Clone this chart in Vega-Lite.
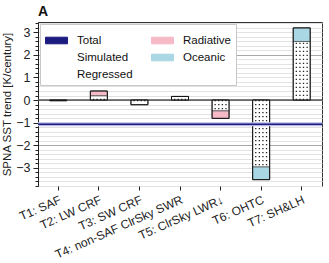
{
  "$schema": "https://vega.github.io/schema/vega-lite/v6.json",
  "width": 284,
  "height": 164,
  "autosize": {"type": "none"},
  "padding": {"left": 38, "top": 22, "right": 7, "bottom": 77},
  "background": "white",
  "title": {"text": "A", "anchor": "start", "frame": "group", "offset": 3, "dy": 5, "fontSize": 14, "font": "Liberation Sans", "fontWeight": "bold", "color": "#111"},
  "config": {
    "font": "Liberation Sans",
    "view": {"stroke": "#333", "strokeWidth": 1},
    "axis": {"labelFont": "Liberation Sans", "titleFont": "Liberation Sans", "labelColor": "#222", "titleColor": "#222", "domainColor": "#222", "tickColor": "#222"},
    "legend": {
      "labelFont": "Liberation Sans", "title": null, "orient": "top-left", "offset": 2, "columns": 2, "columnPadding": 16, "rowPadding": 0,
      "padding": 5, "fillColor": "white", "strokeColor": "#c8c8c8",
      "labelFontSize": 11.5, "labelOffset": 9, "labelColor": "#111", "labelLimit": 200,
      "symbolSize": 484, "symbolStrokeWidth": 1, "symbolType": "M-1,-0.3H1V0.3H-1Z", "symbolStrokeColor": "#222", "symbolOpacity": 1
    }
  },
  "datasets": {
    "bars": [
      {"cat": "T1: SAF", "type": "Regressed", "v0": 0, "v1": -0.03},
      {"cat": "T1: SAF", "type": "Simulated", "v0": 0, "v1": -0.03},
      {"cat": "T2: LW CRF", "type": "Regressed", "v0": 0, "v1": 0.19},
      {"cat": "T2: LW CRF", "type": "Radiative", "v0": 0.19, "v1": 0.4},
      {"cat": "T2: LW CRF", "type": "Simulated", "v0": 0, "v1": 0.4},
      {"cat": "T3: SW CRF", "type": "Regressed", "v0": 0, "v1": -0.2},
      {"cat": "T3: SW CRF", "type": "Simulated", "v0": 0, "v1": -0.21},
      {"cat": "T4: non-SAF ClrSky SWR", "type": "Regressed", "v0": 0, "v1": 0.16},
      {"cat": "T4: non-SAF ClrSky SWR", "type": "Simulated", "v0": 0, "v1": 0.16},
      {"cat": "T5: ClrSky LWR↓", "type": "Regressed", "v0": 0, "v1": -0.48},
      {"cat": "T5: ClrSky LWR↓", "type": "Radiative", "v0": -0.48, "v1": -0.81},
      {"cat": "T5: ClrSky LWR↓", "type": "Simulated", "v0": 0, "v1": -0.81},
      {"cat": "T6: OHTC", "type": "Regressed", "v0": 0, "v1": -2.96},
      {"cat": "T6: OHTC", "type": "Oceanic", "v0": -2.96, "v1": -3.52},
      {"cat": "T6: OHTC", "type": "Simulated", "v0": 0, "v1": -3.52},
      {"cat": "T7: SH&LH", "type": "Regressed", "v0": 0, "v1": 2.59},
      {"cat": "T7: SH&LH", "type": "Oceanic", "v0": 2.59, "v1": 3.19},
      {"cat": "T7: SH&LH", "type": "Simulated", "v0": 0, "v1": 3.19}
    ],
    "total": [{"type": "Total", "v0": -1.07}],
    "zero": [{"v0": 0}]
  },
  "encoding": {
    "x": {
      "field": "cat", "type": "nominal", "sort": null,
      "scale": {"paddingInner": 0, "paddingOuter": 0, "domain": ["T1: SAF", "T2: LW CRF", "T3: SW CRF", "T4: non-SAF ClrSky SWR", "T5: ClrSky LWR↓", "T6: OHTC", "T7: SH&LH"]},
      "axis": {"title": null, "labelAngle": -24, "labelAlign": "right", "labelBaseline": "top", "labelFontSize": 12, "labelPadding": 4, "tickSize": 4, "grid": false, "domain": false, "labelLimit": 200}
    },
    "y": {
      "field": "v0", "type": "quantitative",
      "scale": {"domain": [-3.8, 3.45], "nice": false, "zero": false},
      "axis": {
        "title": "SPNA SST trend [K/century]", "titleFontSize": 11.5, "titleFontWeight": "normal", "titlePadding": 3,
        "labelFontSize": 12.5, "labelPadding": 3, "labelOverlap": false,
        "values": [-3.8, -3.6, -3.4, -3.2, -3, -2.8, -2.6, -2.4, -2.2, -2, -1.8, -1.6, -1.4, -1.2, -1, -0.8, -0.6, -0.4, -0.2, 0, 0.2, 0.4, 0.6, 0.8, 1, 1.2, 1.4, 1.6, 1.8, 2, 2.2, 2.4, 2.6, 2.8, 3, 3.2, 3.4],
        "labelExpr": "abs(datum.value - round(datum.value)) < 0.001 ? format(round(datum.value), 'd') : ''",
        "tickSize": {"condition": {"test": "abs(datum.value - round(datum.value)) < 0.001", "value": 5}, "value": 3},
        "grid": true,
        "gridColor": {"condition": {"test": "abs(datum.value/2 - round(datum.value/2)) < 0.001", "value": "#a8a8a8"}, "value": "#e2e2e2"},
        "gridWidth": 1
      }
    }
  },
  "layer": [
    {
      "data": {"name": "zero"},
      "mark": {"type": "rule", "color": "#555", "strokeWidth": 1.5},
      "encoding": {"x": null}
    },
    {
      "data": {"name": "bars"},
      "transform": [{"filter": "datum.type === 'Radiative' || datum.type === 'Oceanic' || datum.type === 'Regressed'"}],
      "mark": {"type": "bar", "width": 17, "stroke": "#555", "strokeWidth": 0.8},
      "encoding": {
        "y2": {"field": "v1"},
        "color": {
          "field": "type", "type": "nominal",
          "scale": {"domain": ["Total", "Simulated", "Regressed", "Radiative", "Oceanic"], "range": ["#1c1c80", "#ffffff", "#ffffff", "#f5bac6", "#a9d7e3"]},
          "legend": {"symbolStrokeColor": "#222", "symbolStrokeWidth": 1}
        }
      }
    },
    {
      "data": {"name": "bars"},
      "transform": [{"filter": "datum.type === 'Regressed'"}],
      "layer": [
        {"mark": {"type": "rule", "xOffset": -5.4, "color": "#222", "strokeWidth": 1.3, "strokeDash": [1.3, 2.7]}, "encoding": {"y2": {"field": "v1"}}},
        {"mark": {"type": "rule", "xOffset": -1.8, "color": "#222", "strokeWidth": 1.3, "strokeDash": [1.3, 2.7]}, "encoding": {"y2": {"field": "v1"}}},
        {"mark": {"type": "rule", "xOffset": 1.8, "color": "#222", "strokeWidth": 1.3, "strokeDash": [1.3, 2.7]}, "encoding": {"y2": {"field": "v1"}}},
        {"mark": {"type": "rule", "xOffset": 5.4, "color": "#222", "strokeWidth": 1.3, "strokeDash": [1.3, 2.7]}, "encoding": {"y2": {"field": "v1"}}}
      ]
    },
    {
      "data": {"name": "bars"},
      "transform": [{"filter": "datum.type === 'Simulated'"}],
      "mark": {"type": "bar", "width": 17, "stroke": "#111", "strokeWidth": 1, "fillOpacity": 0},
      "encoding": {
        "y2": {"field": "v1"},
        "color": {"field": "type", "type": "nominal"}
      }
    },
    {
      "data": {"name": "total"},
      "mark": {"type": "rule", "color": "#b9b9e6", "strokeWidth": 4},
      "encoding": {"x": null}
    },
    {
      "data": {"name": "total"},
      "mark": {"type": "rule", "strokeWidth": 1.6},
      "encoding": {"x": null, "color": {"field": "type", "type": "nominal"}}
    }
  ]
}
